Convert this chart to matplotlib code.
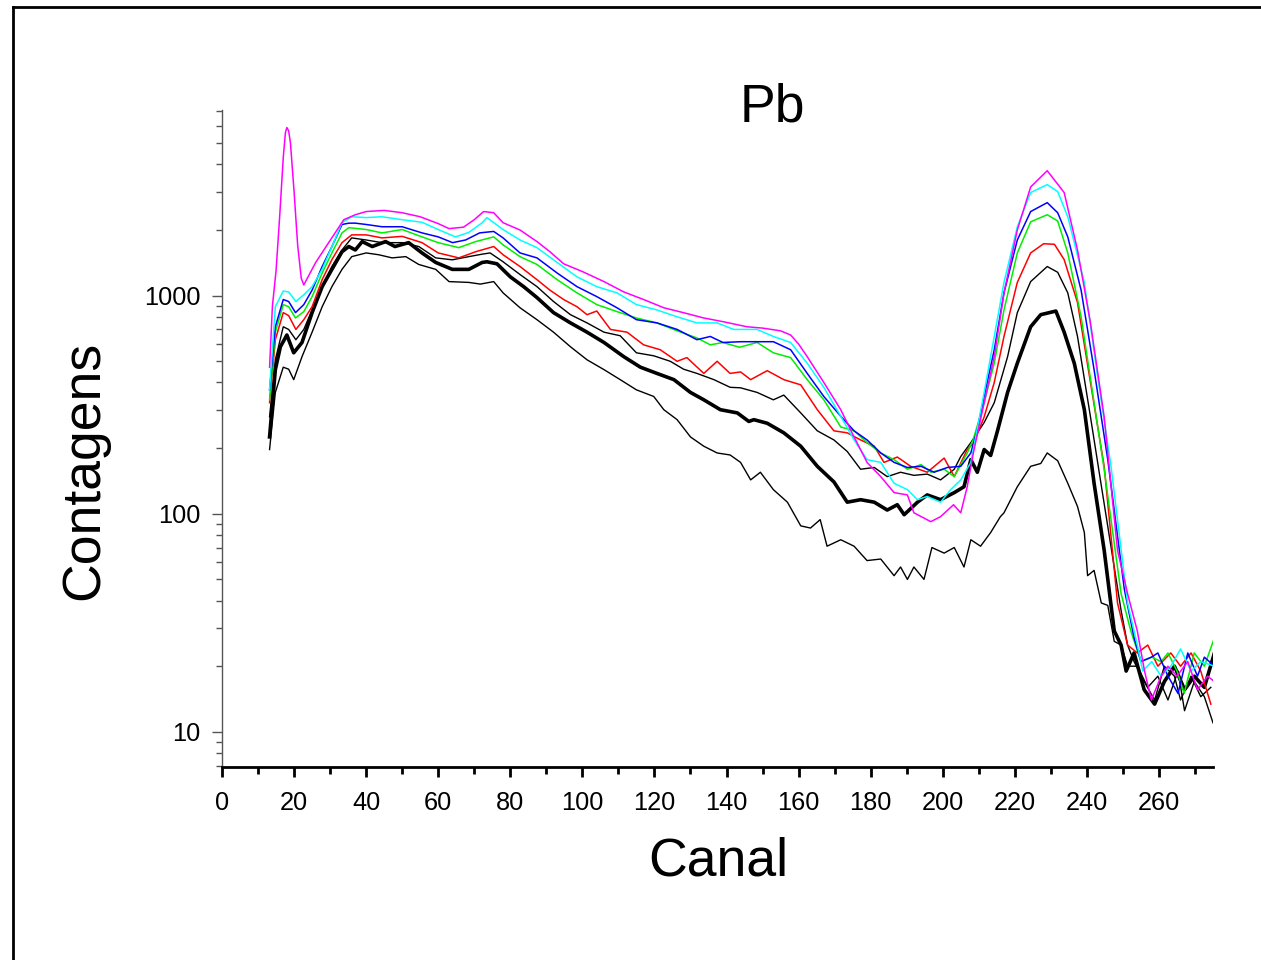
import matplotlib
matplotlib.use("Agg")
import matplotlib.pyplot as plt
from matplotlib.lines import Line2D
from matplotlib.ticker import LogLocator, NullFormatter, FixedLocator, MultipleLocator

plt.rcParams['font.family'] = ['Liberation Sans', 'DejaVu Sans']

# --- data (canal, contagens) ---
mag_ch = [13.2, 14, 15, 16, 17, 17.6, 18, 18.5, 19, 20, 21, 22, 22.7, 26, 29.6, 33.8, 37, 40, 45, 50, 55, 60, 63,
          67, 70, 72.6, 75.4, 78, 82.7, 87.4, 91, 94.8, 100, 106, 111.5, 117, 122.6, 128, 133.7, 139, 145.7, 150,
          155, 157.8, 160, 162.4, 167, 171.7, 175.4, 179, 182.8, 186.5, 190.2, 192, 196.7, 199.4, 203, 205,
          206.8, 208.5, 211.5, 214.3, 217, 220.7, 224.4, 229, 233.7, 237.4, 241, 244.8, 248.5, 251.3, 254, 256,
          257.9, 260.6, 262.5, 265, 268, 270.7, 273.5, 275.4]
mag_cnt = [470, 900, 1300, 2300, 4300, 5600, 5900, 5700, 5000, 3000, 1700, 1200, 1120, 1420, 1750, 2230, 2350,
           2430, 2460, 2400, 2300, 2140, 2030, 2060, 2230, 2430, 2400, 2160, 2000, 1770, 1590, 1400, 1290, 1160,
           1040, 960, 880, 836, 790, 760, 720, 710, 690, 660, 600, 525, 400, 300, 225, 172, 148, 125, 122, 101,
           92, 97, 110, 101, 133, 190, 323, 525, 1030, 2000, 3150, 3740, 2970, 1620, 750, 278, 68, 43, 29, 19, 14,
           18, 20, 18, 21, 15.6, 18, 17]

cyan_ch = [13.2, 14.8, 17, 18.5, 20.5, 22.7, 25, 27.8, 30.5, 33.3, 36, 40, 44.4, 50, 55.5, 60, 64.8, 68.5, 72.2,
           73.5, 78, 82.7, 87.4, 93, 98.5, 104, 109.6, 115, 120.7, 126.3, 131.8, 137.4, 142, 148.5, 153, 157.8,
           162.4, 167, 171.7, 175.4, 179, 182.8, 186.5, 190.2, 193, 195.7, 199.4, 202.2, 205, 207.8, 211.5, 214.3,
           217, 220.7, 224.4, 229, 231.9, 234.7, 239.3, 243, 246.7, 251.3, 254, 255.5, 258, 260.6, 263.3, 266,
           268.9, 271.6, 275.4]
cyan_cnt = [370, 890, 1050, 1040, 940, 1010, 1100, 1320, 1680, 2160, 2300, 2280, 2300, 2230, 2170, 2010, 1860,
            1950, 2160, 2280, 2010, 1800, 1660, 1420, 1220, 1100, 1030, 910, 860, 800, 750, 750, 700, 700, 650,
            610, 490, 380, 280, 218, 177, 172, 138, 129, 116, 120, 113, 129, 143, 172, 360, 650, 1150, 2070, 2970,
            3230, 3000, 2300, 1150, 425, 165, 39, 25, 19, 21, 18, 20, 24, 19, 21, 20]

blue_ch = [13.2, 14.8, 17, 18.5, 20.4, 22.7, 25, 27.8, 30.5, 33.3, 35.2, 37, 40, 44.4, 50, 55.5, 60, 64, 67.6,
           71.5, 75.4, 78, 82.7, 87.4, 93, 98.5, 104, 109.6, 115, 120.7, 126.3, 131.8, 135.5, 139, 144, 148.5,
           153, 157.8, 162.4, 167, 171.7, 175.4, 179, 182.8, 186.5, 190.2, 194, 197.6, 201.3, 205, 207.8, 209.5,
           211.5, 214.3, 217, 220.7, 224.4, 229, 231.9, 234.7, 238.4, 242, 245.8, 250.4, 253.1, 255, 257.9, 259.7,
           262.5, 265.3, 268, 270.7, 272.6, 275.4]
blue_cnt = [370, 720, 960, 940, 836, 910, 1060, 1360, 1680, 2120, 2150, 2150, 2120, 2070, 2070, 1940, 1860, 1750,
            1800, 1940, 1970, 1840, 1570, 1490, 1270, 1100, 990, 880, 776, 750, 700, 628, 650, 610, 615, 615, 615,
            565, 440, 345, 280, 240, 218, 190, 172, 163, 165, 155, 163, 165, 190, 240, 345, 565, 1030, 1800, 2430,
            2670, 2400, 1860, 1060, 458, 177, 45, 27, 21, 22, 23, 18, 15, 23, 18, 22, 20]

green_ch = [13.2, 14.8, 17, 18.5, 20.4, 22.7, 25, 27.8, 30.5, 33.3, 35.2, 40, 44.4, 50, 55.5, 60, 65.7, 70.4,
            75.4, 78, 82.7, 87.4, 93, 98.5, 104, 109.6, 115, 120.7, 126.3, 131.8, 135.5, 139, 143.6, 148.5, 153,
            157.8, 162.4, 167, 171.7, 175.4, 179, 182.8, 186.5, 190.2, 194, 196.7, 200.4, 203.2, 206.8, 208.5,
            211.5, 214.3, 217, 220.7, 224.4, 229, 231.9, 234.7, 238.4, 242, 244.8, 249.5, 252.2, 255, 258, 260.6,
            262.5, 265, 267, 269.8, 272.6, 275.4]
green_cnt = [333, 680, 910, 890, 790, 845, 990, 1270, 1570, 1940, 2050, 2010, 1940, 2010, 1860, 1750, 1660, 1770,
             1860, 1710, 1510, 1390, 1184, 1030, 910, 845, 790, 750, 690, 640, 595, 610, 580, 610, 547, 520, 412,
             333, 250, 240, 212, 190, 177, 160, 168, 155, 160, 148, 190, 220, 323, 490, 860, 1570, 2180, 2350,
             2200, 1570, 800, 323, 160, 43, 29, 21, 22, 21, 23, 19, 15, 23, 20, 27]

red_ch = [13.2, 14.8, 17, 18.5, 20.5, 22.7, 25, 27.8, 30.5, 33.3, 36, 40, 44.4, 50, 55.5, 60, 65.7, 70.4, 75.4,
          78, 82.7, 87.4, 91, 94.8, 98.5, 101.3, 104, 107.8, 112.4, 117, 121.6, 126.3, 129, 133.7, 137.4, 141,
          143.9, 146.7, 151.3, 155.9, 160.6, 165.2, 169.8, 173.5, 177.2, 181, 183.7, 187.4, 191.1, 195.7, 200.4,
          203.2, 206.8, 208.5, 211.5, 214.3, 217, 220.7, 224.4, 228, 231, 233.7, 237.4, 241, 244.8, 248.5, 251.3,
          254, 256.9, 259.7, 263.3, 266, 268.9, 271.6, 274.4]
red_cnt = [323, 628, 836, 810, 700, 776, 890, 1184, 1463, 1750, 1900, 1900, 1840, 1870, 1750, 1570, 1490, 1590,
           1680, 1540, 1360, 1184, 1060, 960, 890, 818, 850, 700, 680, 595, 565, 500, 520, 440, 500, 440, 447,
           412, 453, 412, 390, 300, 240, 235, 218, 204, 172, 182, 165, 155, 180, 148, 197, 210, 278, 400, 650,
           1150, 1570, 1730, 1720, 1463, 930, 400, 165, 39, 25, 23, 25, 20, 23, 20, 23, 19, 13.4]

blk1_ch = [13.2, 14.8, 17, 18.5, 20.5, 22.7, 25, 27.8, 30.5, 33.3, 36, 40, 44.4, 50, 54.6, 59.3, 63.9, 68.5,
           72.2, 74.4, 78, 82.7, 87.4, 92, 96.7, 101.3, 106, 110.5, 115, 119.8, 124.4, 128.1, 131.8, 136.5, 141,
           143.9, 148.5, 153, 155.9, 160.6, 165.2, 169.8, 173.5, 177.2, 181, 184.6, 188.3, 192, 195.7, 199.4,
           203.2, 205, 207.8, 211.5, 214.3, 218, 220.7, 224.4, 229, 231.9, 234.7, 237.4, 241, 243.9, 249.5,
           251.3, 253.1, 255.9, 258.8, 261.5, 264.3, 266, 268.9, 271.6, 274.4]
blk1_cnt = [278, 508, 720, 700, 628, 700, 860, 1100, 1360, 1620, 1840, 1800, 1750, 1750, 1680, 1490, 1460, 1510,
            1550, 1570, 1430, 1250, 1100, 940, 818, 750, 680, 655, 547, 530, 500, 460, 440, 412, 380, 378, 360,
            333, 350, 290, 240, 218, 193, 160, 163, 148, 155, 150, 152, 143, 160, 183, 212, 262, 323, 525, 836,
            1160, 1360, 1280, 1030, 650, 278, 138, 36, 25, 21, 17, 14, 20, 18, 14, 18, 14.5, 16]

blk2_ch = [13.2, 14.8, 16.2, 18, 19.9, 22.2, 25, 27.8, 30.5, 33.3, 35.2, 37, 38.9, 41.7, 45.4, 48, 51.8, 55.5,
           59.3, 63.9, 68.5, 72.2, 73.5, 76.3, 80, 83.7, 87.4, 92, 96.7, 101.3, 106, 111.5, 116.1, 120.7, 125.4,
           130, 133.7, 138.3, 143, 146.2, 147.6, 151.3, 155.9, 160.6, 165.2, 169.8, 173.5, 177.2, 181, 184.6,
           187.4, 189.3, 193, 195.7, 199.4, 203.2, 205.9, 207.8, 209.6, 211.5, 213.3, 215.2, 218, 220.7, 224.4,
           227.2, 231.4, 233.7, 236.5, 239.3, 242, 244.8, 247.6, 249.5, 250.9, 253.1, 255.9, 258.8, 261.5, 264.3,
           267.1, 269.8, 272.6, 275.4]
blk2_cnt = [225, 458, 583, 660, 547, 610, 836, 1100, 1320, 1590, 1680, 1620, 1770, 1680, 1770, 1680, 1750, 1570,
            1420, 1320, 1320, 1420, 1430, 1400, 1220, 1100, 980, 836, 750, 680, 610, 525, 470, 440, 412, 360, 333,
            300, 290, 265, 270, 260, 235, 204, 165, 140, 113, 116, 113, 104, 110, 99, 113, 122, 116, 125, 133, 177,
            155, 197, 185, 240, 360, 490, 720, 818, 850, 680, 490, 300, 138, 68, 29, 25, 19, 23, 15.6, 13.4, 17,
            20, 15.6, 18, 16, 23]

blk3_ch = [13.2, 14.8, 17, 18.5, 19.9, 22.2, 25, 27.8, 30.5, 33.3, 36, 40, 43.5, 47.2, 51, 54.6, 59.3, 63, 68.5,
           71.7, 75.4, 78, 82.7, 87.4, 92, 96.7, 101.3, 106, 110.5, 115, 119.8, 122.6, 126.3, 130, 133.7, 137.4,
           141, 143.9, 146.7, 149.4, 153, 156.9, 160.6, 163.3, 166, 167.9, 171.7, 175.4, 179, 182.8, 186.5, 188.3,
           190.2, 192, 194.8, 197, 200.4, 203.2, 205.9, 207.8, 210.5, 213.3, 216, 217, 220.7, 224.4, 227.2, 229,
           231.9, 234.7, 237.4, 239.3, 240.2, 242, 244, 245.8, 247.6, 249.5, 251.3, 254, 256.9, 259.7, 262.5,
           265.3, 267.1, 269.8, 272.6, 275]
blk3_cnt = [197, 360, 470, 460, 412, 525, 680, 890, 1100, 1320, 1510, 1570, 1540, 1490, 1510, 1390, 1320, 1160,
            1150, 1130, 1160, 1030, 880, 776, 680, 583, 508, 458, 412, 370, 345, 300, 270, 225, 204, 190, 186, 172,
            143, 155, 129, 113, 88, 86, 94, 71, 76, 71, 61, 62, 52, 57, 50, 57, 50, 70, 66, 70, 57, 76, 71, 82, 97,
            101, 133, 165, 170, 190, 175, 138, 108, 82, 52, 55, 39, 38, 26, 25, 20, 20, 16, 18, 14, 19, 12.5, 17,
            14.5, 11]

series = [
    (blk3_ch, blk3_cnt, 'black', 1.0),
    (blk2_ch, blk2_cnt, 'black', 2.6),
    (blk1_ch, blk1_cnt, 'black', 1.0),
    (red_ch, red_cnt, '#ff0000', 1.1),
    (green_ch, green_cnt, '#00ee00', 1.1),
    (blue_ch, blue_cnt, '#0000ff', 1.1),
    (cyan_ch, cyan_cnt, '#00ffff', 1.1),
    (mag_ch, mag_cnt, '#ff00ff', 1.1),
]

fig = plt.figure(figsize=(12.61, 9.6), dpi=100)
ax = fig.add_axes([222 / 1261, 1 - 767 / 960, (1213 - 222) / 1261, (767 - 110) / 960])

for ch, cnt, col, lw in series:
    ax.plot(ch, cnt, color=col, lw=lw)

ax.set_yscale('log')
ax.set_xlim(0, 275)
ax.set_ylim(6.9, 7100)

ax.xaxis.set_major_locator(MultipleLocator(20))
ax.xaxis.set_minor_locator(MultipleLocator(10))
ax.yaxis.set_major_locator(FixedLocator([10, 100, 1000]))
ax.yaxis.set_minor_locator(LogLocator(base=10, subs=range(2, 10)))
ax.yaxis.set_minor_formatter(NullFormatter())
ax.set_yticklabels(['10', '100', '1000'])

for s in ['top', 'right']:
    ax.spines[s].set_visible(False)
ax.spines['bottom'].set_linewidth(2)
ax.spines['left'].set_linewidth(1)
ax.spines['left'].set_color('#555555')

ax.tick_params(axis='x', which='major', direction='out', length=7.5, width=2, pad=10, labelsize=18.3)
ax.tick_params(axis='x', which='minor', direction='out', length=5, width=2)
ax.tick_params(axis='y', which='major', direction='out', length=7.5, width=1, pad=8, labelsize=18.3,
               color='#555555')
ax.tick_params(axis='y', which='minor', direction='out', length=4.5, width=1, color='#555555')

fig.text(772 / 1261, 1 - 107 / 960, 'Pb', fontsize=38.5, ha='center', va='center')
fig.text(718 / 1261, 1 - 861 / 960, 'Canal', fontsize=38.5, ha='center', va='center')
fig.text(84 / 1261, 1 - 470 / 960, 'Contagens', fontsize=38.5, ha='center', va='center', rotation=90)

# page frame (left and top edge visible)
x0, y0 = 12.5 / 1261, 1 - 6.5 / 960
fig.add_artist(Line2D([x0, x0], [0, y0], transform=fig.transFigure, color='black', lw=2))
fig.add_artist(Line2D([x0, 1], [y0, y0], transform=fig.transFigure, color='black', lw=2))

fig.savefig('out.png', dpi=100)
